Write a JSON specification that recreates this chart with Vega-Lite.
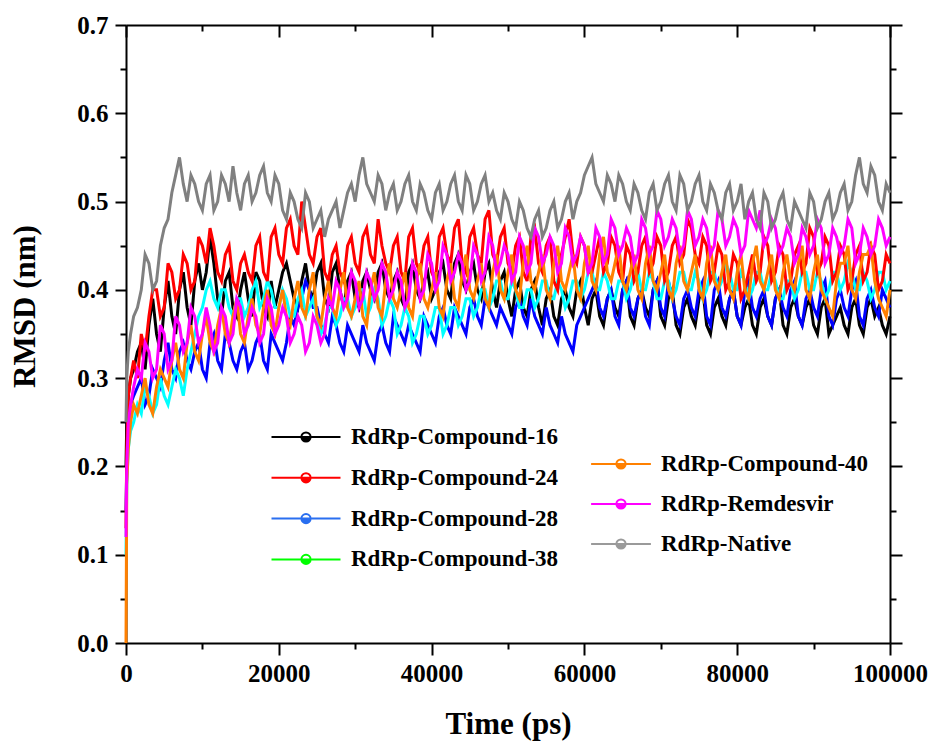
{
"$schema":"https://vega.github.io/schema/vega-lite/v6.json",
"width":764,"height":618,
"autosize":"none",
"padding":{"left":126,"top":25,"right":44,"bottom":101},
"background":"white",
"config":{"view":{"stroke":null},
"axis":{"grid":false,"domainColor":"black","domainWidth":2,"tickColor":"black","tickWidth":2,"labelFont":"Liberation Serif","labelFontWeight":"bold","labelFontSize":25,"labelColor":"black","titleFont":"Liberation Serif","titleFontWeight":"bold","titleFontSize":31,"titleColor":"black"},
"legend":{"orient":"none","title":null,"padding":0,"symbolSize":529,"symbolStrokeWidth":2,"labelFont":"Liberation Serif","labelFontWeight":"bold","labelFontSize":23,"labelColor":"black","labelLimit":400}},
"data":{"values":[
{"t":0,"a":0.20,"b":0.13,"c":0.15,"d":0.10,"e":0.0,"f":0.12,"g":0.25},
{"t":100,"a":0.25,"b":0.22,"c":0.20,"d":0.18,"e":0.18,"f":0.20,"g":0.30},
{"t":300,"a":0.28,"b":0.28,"c":0.25,"d":0.22,"e":0.22,"f":0.25,"g":0.33},
{"t":600,"a":0.30,"b":0.30,"c":0.27,"d":0.24,"e":0.25,"f":0.27,"g":0.35},
{"t":1000,"a":0.31,"b":0.32,"c":0.28,"d":0.25,"e":0.27,"f":0.29,"g":0.37},
{"t":1500,"a":0.33,"b":0.30,"c":0.29,"d":0.27,"e":0.26,"f":0.31,"g":0.38},
{"t":2000,"a":0.34,"b":0.35,"c":0.30,"d":0.26,"e":0.28,"f":0.30,"g":0.40},
{"t":3000,"a":0.36,"b":0.37,"c":0.28,"d":0.28,"e":0.27,"f":0.33,"g":0.43},
{"t":4000,"a":0.35,"b":0.40,"c":0.30,"d":0.27,"e":0.29,"f":0.31,"g":0.41},
{"t":5000,"a":0.38,"b":0.38,"c":0.32,"d":0.28,"e":0.30,"f":0.35,"g":0.47},
{"t":6000,"a":0.37,"b":0.42,"c":0.31,"d":0.29,"e":0.32,"f":0.32,"g":0.51},
{"t":7000,"a":0.40,"b":0.40,"c":0.33,"d":0.30,"e":0.31,"f":0.36,"g":0.55},
{"t":8000,"a":0.38,"b":0.43,"c":0.32,"d":0.31,"e":0.34,"f":0.34,"g":0.50},
{"t":9000,"a":0.41,"b":0.41,"c":0.33,"d":0.35,"e":0.33,"f":0.37,"g":0.52},
{"t":10000,"a":0.40,"b":0.45,"c":0.31,"d":0.38,"e":0.35,"f":0.35,"g":0.49},
{"t":11000,"a":0.46,"b":0.47,"c":0.34,"d":0.41,"e":0.34,"f":0.36,"g":0.53},
{"t":12000,"a":0.39,"b":0.42,"c":0.32,"d":0.38,"e":0.36,"f":0.34,"g":0.50},
{"t":13000,"a":0.41,"b":0.44,"c":0.35,"d":0.40,"e":0.35,"f":0.37,"g":0.52},
{"t":14000,"a":0.38,"b":0.41,"c":0.32,"d":0.37,"e":0.37,"f":0.35,"g":0.54},
{"t":15000,"a":0.40,"b":0.43,"c":0.33,"d":0.39,"e":0.35,"f":0.38,"g":0.49},
{"t":16000,"a":0.39,"b":0.42,"c":0.31,"d":0.38,"e":0.37,"f":0.36,"g":0.53},
{"t":17000,"a":0.42,"b":0.45,"c":0.34,"d":0.41,"e":0.36,"f":0.37,"g":0.51},
{"t":18000,"a":0.38,"b":0.42,"c":0.32,"d":0.39,"e":0.38,"f":0.35,"g":0.54},
{"t":19000,"a":0.41,"b":0.46,"c":0.35,"d":0.40,"e":0.36,"f":0.38,"g":0.50},
{"t":20000,"a":0.40,"b":0.44,"c":0.33,"d":0.38,"e":0.38,"f":0.36,"g":0.52},
{"t":21000,"a":0.43,"b":0.47,"c":0.34,"d":0.39,"e":0.37,"f":0.37,"g":0.48},
{"t":22000,"a":0.39,"b":0.45,"c":0.36,"d":0.37,"e":0.39,"f":0.35,"g":0.50},
{"t":23000,"a":0.41,"b":0.50,"c":0.39,"d":0.40,"e":0.38,"f":0.36,"g":0.47},
{"t":24000,"a":0.40,"b":0.44,"c":0.40,"d":0.38,"e":0.40,"f":0.34,"g":0.50},
{"t":25000,"a":0.42,"b":0.46,"c":0.38,"d":0.37,"e":0.37,"f":0.36,"g":0.48},
{"t":26000,"a":0.39,"b":0.42,"c":0.35,"d":0.36,"e":0.39,"f":0.35,"g":0.46},
{"t":27000,"a":0.42,"b":0.44,"c":0.37,"d":0.38,"e":0.38,"f":0.38,"g":0.49},
{"t":28000,"a":0.40,"b":0.42,"c":0.34,"d":0.37,"e":0.40,"f":0.40,"g":0.47},
{"t":29000,"a":0.41,"b":0.45,"c":0.36,"d":0.39,"e":0.38,"f":0.39,"g":0.51},
{"t":30000,"a":0.39,"b":0.43,"c":0.34,"d":0.38,"e":0.39,"f":0.41,"g":0.50},
{"t":31000,"a":0.41,"b":0.46,"c":0.36,"d":0.40,"e":0.37,"f":0.39,"g":0.55},
{"t":32000,"a":0.40,"b":0.44,"c":0.33,"d":0.38,"e":0.40,"f":0.41,"g":0.51},
{"t":33000,"a":0.42,"b":0.48,"c":0.35,"d":0.39,"e":0.38,"f":0.40,"g":0.53},
{"t":34000,"a":0.40,"b":0.43,"c":0.34,"d":0.37,"e":0.41,"f":0.42,"g":0.49},
{"t":35000,"a":0.41,"b":0.45,"c":0.37,"d":0.38,"e":0.39,"f":0.40,"g":0.52},
{"t":36000,"a":0.39,"b":0.42,"c":0.35,"d":0.36,"e":0.40,"f":0.41,"g":0.50},
{"t":37000,"a":0.42,"b":0.46,"c":0.36,"d":0.37,"e":0.38,"f":0.39,"g":0.53},
{"t":38000,"a":0.40,"b":0.43,"c":0.34,"d":0.35,"e":0.41,"f":0.42,"g":0.49},
{"t":39000,"a":0.41,"b":0.45,"c":0.37,"d":0.37,"e":0.39,"f":0.40,"g":0.51},
{"t":40000,"a":0.39,"b":0.42,"c":0.35,"d":0.36,"e":0.40,"f":0.43,"g":0.48},
{"t":41000,"a":0.42,"b":0.46,"c":0.37,"d":0.38,"e":0.38,"f":0.41,"g":0.52},
{"t":42000,"a":0.40,"b":0.44,"c":0.36,"d":0.36,"e":0.41,"f":0.44,"g":0.50},
{"t":43000,"a":0.43,"b":0.47,"c":0.38,"d":0.38,"e":0.39,"f":0.42,"g":0.53},
{"t":44000,"a":0.41,"b":0.43,"c":0.36,"d":0.37,"e":0.42,"f":0.43,"g":0.49},
{"t":45000,"a":0.42,"b":0.46,"c":0.38,"d":0.39,"e":0.40,"f":0.41,"g":0.52},
{"t":46000,"a":0.40,"b":0.44,"c":0.37,"d":0.38,"e":0.41,"f":0.44,"g":0.50},
{"t":47000,"a":0.42,"b":0.48,"c":0.39,"d":0.40,"e":0.39,"f":0.42,"g":0.53},
{"t":48000,"a":0.40,"b":0.44,"c":0.37,"d":0.39,"e":0.42,"f":0.45,"g":0.51},
{"t":49000,"a":0.41,"b":0.46,"c":0.38,"d":0.41,"e":0.40,"f":0.43,"g":0.48},
{"t":50000,"a":0.39,"b":0.43,"c":0.36,"d":0.39,"e":0.42,"f":0.44,"g":0.50},
{"t":51000,"a":0.40,"b":0.45,"c":0.38,"d":0.40,"e":0.40,"f":0.42,"g":0.47},
{"t":52000,"a":0.38,"b":0.42,"c":0.37,"d":0.38,"e":0.43,"f":0.45,"g":0.49},
{"t":53000,"a":0.40,"b":0.46,"c":0.39,"d":0.40,"e":0.41,"f":0.43,"g":0.46},
{"t":54000,"a":0.38,"b":0.43,"c":0.36,"d":0.39,"e":0.42,"f":0.46,"g":0.49},
{"t":55000,"a":0.39,"b":0.45,"c":0.38,"d":0.41,"e":0.40,"f":0.44,"g":0.47},
{"t":56000,"a":0.37,"b":0.41,"c":0.35,"d":0.39,"e":0.43,"f":0.45,"g":0.50},
{"t":57000,"a":0.39,"b":0.44,"c":0.37,"d":0.40,"e":0.41,"f":0.43,"g":0.48},
{"t":58000,"a":0.38,"b":0.48,"c":0.34,"d":0.39,"e":0.42,"f":0.46,"g":0.51},
{"t":59000,"a":0.40,"b":0.43,"c":0.36,"d":0.41,"e":0.40,"f":0.44,"g":0.50},
{"t":60000,"a":0.38,"b":0.45,"c":0.38,"d":0.40,"e":0.43,"f":0.45,"g":0.53},
{"t":61000,"a":0.39,"b":0.42,"c":0.40,"d":0.42,"e":0.41,"f":0.43,"g":0.55},
{"t":62000,"a":0.37,"b":0.46,"c":0.38,"d":0.40,"e":0.44,"f":0.46,"g":0.51},
{"t":63000,"a":0.39,"b":0.43,"c":0.39,"d":0.41,"e":0.42,"f":0.44,"g":0.53},
{"t":64000,"a":0.38,"b":0.45,"c":0.37,"d":0.39,"e":0.43,"f":0.47,"g":0.50},
{"t":65000,"a":0.40,"b":0.41,"c":0.40,"d":0.41,"e":0.41,"f":0.45,"g":0.52},
{"t":66000,"a":0.37,"b":0.44,"c":0.38,"d":0.40,"e":0.42,"f":0.46,"g":0.49},
{"t":67000,"a":0.39,"b":0.42,"c":0.39,"d":0.42,"e":0.40,"f":0.44,"g":0.51},
{"t":68000,"a":0.38,"b":0.46,"c":0.37,"d":0.40,"e":0.43,"f":0.47,"g":0.48},
{"t":69000,"a":0.40,"b":0.43,"c":0.40,"d":0.41,"e":0.41,"f":0.45,"g":0.52},
{"t":70000,"a":0.37,"b":0.45,"c":0.38,"d":0.39,"e":0.42,"f":0.48,"g":0.50},
{"t":71000,"a":0.39,"b":0.42,"c":0.41,"d":0.41,"e":0.40,"f":0.46,"g":0.53},
{"t":72000,"a":0.36,"b":0.46,"c":0.37,"d":0.40,"e":0.43,"f":0.47,"g":0.49},
{"t":73000,"a":0.38,"b":0.44,"c":0.39,"d":0.42,"e":0.41,"f":0.45,"g":0.52},
{"t":74000,"a":0.37,"b":0.47,"c":0.38,"d":0.40,"e":0.42,"f":0.48,"g":0.50},
{"t":75000,"a":0.39,"b":0.43,"c":0.40,"d":0.41,"e":0.40,"f":0.46,"g":0.53},
{"t":76000,"a":0.36,"b":0.45,"c":0.37,"d":0.40,"e":0.43,"f":0.47,"g":0.49},
{"t":77000,"a":0.38,"b":0.42,"c":0.40,"d":0.42,"e":0.41,"f":0.45,"g":0.51},
{"t":78000,"a":0.37,"b":0.44,"c":0.38,"d":0.41,"e":0.42,"f":0.48,"g":0.48},
{"t":79000,"a":0.39,"b":0.41,"c":0.39,"d":0.42,"e":0.40,"f":0.46,"g":0.52},
{"t":80000,"a":0.37,"b":0.43,"c":0.37,"d":0.40,"e":0.42,"f":0.47,"g":0.50},
{"t":81000,"a":0.38,"b":0.40,"c":0.40,"d":0.41,"e":0.40,"f":0.45,"g":0.48},
{"t":82000,"a":0.36,"b":0.44,"c":0.38,"d":0.40,"e":0.43,"f":0.48,"g":0.51},
{"t":83000,"a":0.38,"b":0.42,"c":0.39,"d":0.42,"e":0.41,"f":0.49,"g":0.47},
{"t":84000,"a":0.37,"b":0.45,"c":0.37,"d":0.40,"e":0.42,"f":0.46,"g":0.50},
{"t":85000,"a":0.39,"b":0.42,"c":0.39,"d":0.41,"e":0.40,"f":0.47,"g":0.48},
{"t":86000,"a":0.36,"b":0.44,"c":0.38,"d":0.39,"e":0.42,"f":0.45,"g":0.51},
{"t":87000,"a":0.38,"b":0.41,"c":0.40,"d":0.41,"e":0.41,"f":0.46,"g":0.47},
{"t":88000,"a":0.37,"b":0.45,"c":0.37,"d":0.40,"e":0.43,"f":0.44,"g":0.49},
{"t":89000,"a":0.38,"b":0.43,"c":0.39,"d":0.42,"e":0.40,"f":0.46,"g":0.47},
{"t":90000,"a":0.36,"b":0.46,"c":0.38,"d":0.40,"e":0.42,"f":0.45,"g":0.50},
{"t":91000,"a":0.38,"b":0.43,"c":0.40,"d":0.41,"e":0.40,"f":0.47,"g":0.48},
{"t":92000,"a":0.35,"b":0.45,"c":0.37,"d":0.40,"e":0.38,"f":0.44,"g":0.51},
{"t":93000,"a":0.37,"b":0.42,"c":0.39,"d":0.42,"e":0.41,"f":0.46,"g":0.49},
{"t":94000,"a":0.36,"b":0.44,"c":0.38,"d":0.41,"e":0.43,"f":0.45,"g":0.52},
{"t":95000,"a":0.38,"b":0.41,"c":0.40,"d":0.42,"e":0.40,"f":0.47,"g":0.50},
{"t":96000,"a":0.36,"b":0.45,"c":0.37,"d":0.40,"e":0.42,"f":0.44,"g":0.55},
{"t":97000,"a":0.38,"b":0.42,"c":0.39,"d":0.41,"e":0.44,"f":0.46,"g":0.51},
{"t":98000,"a":0.37,"b":0.44,"c":0.38,"d":0.40,"e":0.41,"f":0.45,"g":0.53},
{"t":99000,"a":0.36,"b":0.41,"c":0.40,"d":0.42,"e":0.38,"f":0.47,"g":0.49},
{"t":100000,"a":0.37,"b":0.43,"c":0.38,"d":0.41,"e":0.40,"f":0.46,"g":0.51},
{"t":2500,"a":0.31,"b":0.33,"c":0.27,"d":0.29,"e":0.30,"f":0.34,"g":0.44},
{"t":3500,"a":0.39,"b":0.40,"c":0.31,"d":0.26,"e":0.26,"f":0.30,"g":0.40},
{"t":4500,"a":0.33,"b":0.37,"c":0.29,"d":0.30,"e":0.31,"f":0.36,"g":0.45},
{"t":5500,"a":0.41,"b":0.43,"c":0.34,"d":0.27,"e":0.29,"f":0.31,"g":0.48},
{"t":6500,"a":0.35,"b":0.39,"c":0.30,"d":0.31,"e":0.34,"f":0.37,"g":0.53},
{"t":7500,"a":0.42,"b":0.44,"c":0.34,"d":0.28,"e":0.30,"f":0.33,"g":0.52},
{"t":8500,"a":0.36,"b":0.40,"c":0.31,"d":0.33,"e":0.36,"f":0.38,"g":0.53},
{"t":9500,"a":0.43,"b":0.46,"c":0.34,"d":0.37,"e":0.32,"f":0.34,"g":0.50},
{"t":10500,"a":0.42,"b":0.43,"c":0.30,"d":0.40,"e":0.37,"f":0.38,"g":0.52},
{"t":11500,"a":0.43,"b":0.45,"c":0.35,"d":0.39,"e":0.33,"f":0.33,"g":0.49},
{"t":12500,"a":0.37,"b":0.41,"c":0.31,"d":0.40,"e":0.38,"f":0.38,"g":0.53},
{"t":13500,"a":0.42,"b":0.45,"c":0.34,"d":0.38,"e":0.34,"f":0.34,"g":0.50},
{"t":14500,"a":0.37,"b":0.40,"c":0.31,"d":0.39,"e":0.39,"f":0.39,"g":0.51},
{"t":15500,"a":0.42,"b":0.44,"c":0.34,"d":0.37,"e":0.34,"f":0.35,"g":0.52},
{"t":16500,"a":0.37,"b":0.41,"c":0.32,"d":0.40,"e":0.39,"f":0.38,"g":0.50},
{"t":17500,"a":0.41,"b":0.46,"c":0.35,"d":0.38,"e":0.35,"f":0.34,"g":0.53},
{"t":18500,"a":0.37,"b":0.41,"c":0.31,"d":0.41,"e":0.40,"f":0.39,"g":0.51},
{"t":19500,"a":0.38,"b":0.47,"c":0.34,"d":0.38,"e":0.35,"f":0.35,"g":0.53},
{"t":20500,"a":0.42,"b":0.43,"c":0.32,"d":0.40,"e":0.40,"f":0.38,"g":0.49},
{"t":21500,"a":0.41,"b":0.48,"c":0.37,"d":0.37,"e":0.36,"f":0.34,"g":0.51},
{"t":22500,"a":0.38,"b":0.44,"c":0.38,"d":0.39,"e":0.41,"f":0.37,"g":0.48},
{"t":23500,"a":0.43,"b":0.47,"c":0.41,"d":0.37,"e":0.37,"f":0.33,"g":0.51},
{"t":24500,"a":0.39,"b":0.43,"c":0.38,"d":0.39,"e":0.42,"f":0.37,"g":0.47},
{"t":25500,"a":0.43,"b":0.47,"c":0.36,"d":0.35,"e":0.36,"f":0.34,"g":0.49},
{"t":26500,"a":0.38,"b":0.41,"c":0.34,"d":0.38,"e":0.41,"f":0.39,"g":0.48},
{"t":27500,"a":0.43,"b":0.45,"c":0.36,"d":0.36,"e":0.37,"f":0.41,"g":0.50},
{"t":28500,"a":0.38,"b":0.41,"c":0.33,"d":0.39,"e":0.42,"f":0.38,"g":0.49},
{"t":29500,"a":0.42,"b":0.46,"c":0.35,"d":0.37,"e":0.37,"f":0.42,"g":0.52},
{"t":30500,"a":0.38,"b":0.42,"c":0.33,"d":0.40,"e":0.41,"f":0.38,"g":0.53},
{"t":31500,"a":0.42,"b":0.47,"c":0.34,"d":0.37,"e":0.36,"f":0.42,"g":0.52},
{"t":32500,"a":0.39,"b":0.43,"c":0.32,"d":0.40,"e":0.42,"f":0.39,"g":0.50},
{"t":33500,"a":0.43,"b":0.45,"c":0.36,"d":0.36,"e":0.37,"f":0.43,"g":0.52},
{"t":34500,"a":0.39,"b":0.42,"c":0.33,"d":0.39,"e":0.43,"f":0.39,"g":0.51},
{"t":35500,"a":0.42,"b":0.46,"c":0.36,"d":0.35,"e":0.38,"f":0.42,"g":0.49},
{"t":36500,"a":0.38,"b":0.41,"c":0.34,"d":0.38,"e":0.42,"f":0.38,"g":0.52},
{"t":37500,"a":0.43,"b":0.47,"c":0.35,"d":0.34,"e":0.37,"f":0.43,"g":0.50},
{"t":38500,"a":0.39,"b":0.42,"c":0.33,"d":0.37,"e":0.43,"f":0.39,"g":0.52},
{"t":39500,"a":0.42,"b":0.46,"c":0.36,"d":0.35,"e":0.38,"f":0.44,"g":0.49},
{"t":40500,"a":0.40,"b":0.41,"c":0.34,"d":0.38,"e":0.42,"f":0.40,"g":0.51},
{"t":41500,"a":0.43,"b":0.47,"c":0.38,"d":0.35,"e":0.37,"f":0.45,"g":0.49},
{"t":42500,"a":0.39,"b":0.43,"c":0.35,"d":0.38,"e":0.43,"f":0.41,"g":0.52},
{"t":43500,"a":0.44,"b":0.48,"c":0.37,"d":0.36,"e":0.38,"f":0.44,"g":0.50},
{"t":44500,"a":0.40,"b":0.42,"c":0.35,"d":0.39,"e":0.44,"f":0.40,"g":0.53},
{"t":45500,"a":0.43,"b":0.47,"c":0.39,"d":0.37,"e":0.39,"f":0.45,"g":0.49},
{"t":46500,"a":0.39,"b":0.43,"c":0.36,"d":0.40,"e":0.43,"f":0.41,"g":0.52},
{"t":47500,"a":0.43,"b":0.49,"c":0.38,"d":0.38,"e":0.38,"f":0.46,"g":0.50},
{"t":48500,"a":0.38,"b":0.43,"c":0.36,"d":0.41,"e":0.44,"f":0.42,"g":0.49},
{"t":49500,"a":0.42,"b":0.47,"c":0.37,"d":0.39,"e":0.39,"f":0.45,"g":0.51},
{"t":50500,"a":0.37,"b":0.42,"c":0.35,"d":0.41,"e":0.44,"f":0.41,"g":0.48},
{"t":51500,"a":0.41,"b":0.46,"c":0.39,"d":0.38,"e":0.39,"f":0.46,"g":0.50},
{"t":52500,"a":0.37,"b":0.41,"c":0.36,"d":0.40,"e":0.45,"f":0.42,"g":0.47},
{"t":53500,"a":0.41,"b":0.47,"c":0.37,"d":0.38,"e":0.40,"f":0.47,"g":0.48},
{"t":54500,"a":0.36,"b":0.42,"c":0.35,"d":0.41,"e":0.44,"f":0.43,"g":0.46},
{"t":55500,"a":0.40,"b":0.46,"c":0.36,"d":0.39,"e":0.39,"f":0.46,"g":0.49},
{"t":56500,"a":0.36,"b":0.40,"c":0.34,"d":0.41,"e":0.45,"f":0.42,"g":0.47},
{"t":57500,"a":0.40,"b":0.46,"c":0.35,"d":0.38,"e":0.40,"f":0.47,"g":0.50},
{"t":58500,"a":0.37,"b":0.44,"c":0.33,"d":0.41,"e":0.44,"f":0.43,"g":0.48},
{"t":59500,"a":0.41,"b":0.46,"c":0.37,"d":0.39,"e":0.39,"f":0.46,"g":0.51},
{"t":60500,"a":0.36,"b":0.42,"c":0.39,"d":0.42,"e":0.45,"f":0.42,"g":0.54},
{"t":61500,"a":0.40,"b":0.44,"c":0.41,"d":0.40,"e":0.40,"f":0.47,"g":0.52},
{"t":62500,"a":0.36,"b":0.42,"c":0.37,"d":0.42,"e":0.46,"f":0.43,"g":0.50},
{"t":63500,"a":0.40,"b":0.46,"c":0.40,"d":0.39,"e":0.41,"f":0.48,"g":0.52},
{"t":64500,"a":0.37,"b":0.42,"c":0.36,"d":0.41,"e":0.45,"f":0.44,"g":0.53},
{"t":65500,"a":0.41,"b":0.45,"c":0.41,"d":0.39,"e":0.40,"f":0.47,"g":0.50},
{"t":66500,"a":0.36,"b":0.41,"c":0.37,"d":0.42,"e":0.44,"f":0.43,"g":0.52},
{"t":67500,"a":0.40,"b":0.45,"c":0.40,"d":0.40,"e":0.39,"f":0.48,"g":0.49},
{"t":68500,"a":0.37,"b":0.42,"c":0.36,"d":0.42,"e":0.45,"f":0.44,"g":0.51},
{"t":69500,"a":0.41,"b":0.46,"c":0.41,"d":0.39,"e":0.40,"f":0.49,"g":0.49},
{"t":70500,"a":0.36,"b":0.41,"c":0.37,"d":0.41,"e":0.44,"f":0.45,"g":0.52},
{"t":71500,"a":0.40,"b":0.45,"c":0.39,"d":0.39,"e":0.39,"f":0.48,"g":0.50},
{"t":72500,"a":0.35,"b":0.43,"c":0.36,"d":0.42,"e":0.45,"f":0.44,"g":0.53},
{"t":73500,"a":0.39,"b":0.48,"c":0.40,"d":0.40,"e":0.40,"f":0.49,"g":0.49},
{"t":74500,"a":0.36,"b":0.44,"c":0.37,"d":0.42,"e":0.44,"f":0.45,"g":0.52},
{"t":75500,"a":0.40,"b":0.46,"c":0.41,"d":0.39,"e":0.39,"f":0.48,"g":0.50},
{"t":76500,"a":0.35,"b":0.41,"c":0.36,"d":0.42,"e":0.45,"f":0.44,"g":0.52},
{"t":77500,"a":0.39,"b":0.45,"c":0.41,"d":0.40,"e":0.40,"f":0.49,"g":0.49},
{"t":78500,"a":0.36,"b":0.40,"c":0.37,"d":0.43,"e":0.44,"f":0.45,"g":0.51},
{"t":79500,"a":0.40,"b":0.44,"c":0.40,"d":0.40,"e":0.39,"f":0.48,"g":0.49},
{"t":80500,"a":0.36,"b":0.39,"c":0.36,"d":0.42,"e":0.44,"f":0.44,"g":0.52},
{"t":81500,"a":0.39,"b":0.42,"c":0.41,"d":0.39,"e":0.39,"f":0.49,"g":0.50},
{"t":82500,"a":0.35,"b":0.41,"c":0.37,"d":0.42,"e":0.45,"f":0.47,"g":0.48},
{"t":83500,"a":0.39,"b":0.46,"c":0.40,"d":0.40,"e":0.40,"f":0.45,"g":0.51},
{"t":84500,"a":0.36,"b":0.41,"c":0.36,"d":0.42,"e":0.44,"f":0.48,"g":0.47},
{"t":85500,"a":0.40,"b":0.45,"c":0.40,"d":0.39,"e":0.39,"f":0.44,"g":0.50},
{"t":86500,"a":0.35,"b":0.40,"c":0.37,"d":0.41,"e":0.44,"f":0.47,"g":0.48},
{"t":87500,"a":0.39,"b":0.44,"c":0.41,"d":0.39,"e":0.40,"f":0.43,"g":0.50},
{"t":88500,"a":0.36,"b":0.42,"c":0.36,"d":0.42,"e":0.45,"f":0.47,"g":0.48},
{"t":89500,"a":0.39,"b":0.47,"c":0.40,"d":0.40,"e":0.39,"f":0.44,"g":0.51},
{"t":90500,"a":0.35,"b":0.42,"c":0.37,"d":0.42,"e":0.44,"f":0.48,"g":0.47},
{"t":91500,"a":0.39,"b":0.46,"c":0.41,"d":0.39,"e":0.39,"f":0.43,"g":0.50},
{"t":92500,"a":0.36,"b":0.41,"c":0.36,"d":0.42,"e":0.37,"f":0.47,"g":0.48},
{"t":93500,"a":0.38,"b":0.45,"c":0.40,"d":0.40,"e":0.43,"f":0.44,"g":0.51},
{"t":94500,"a":0.35,"b":0.40,"c":0.37,"d":0.43,"e":0.45,"f":0.48,"g":0.49},
{"t":95500,"a":0.39,"b":0.44,"c":0.41,"d":0.40,"e":0.39,"f":0.43,"g":0.53},
{"t":96500,"a":0.35,"b":0.41,"c":0.36,"d":0.42,"e":0.44,"f":0.47,"g":0.52},
{"t":97500,"a":0.39,"b":0.45,"c":0.40,"d":0.39,"e":0.45,"f":0.44,"g":0.54},
{"t":98500,"a":0.38,"b":0.40,"c":0.37,"d":0.42,"e":0.39,"f":0.48,"g":0.50},
{"t":99500,"a":0.35,"b":0.44,"c":0.39,"d":0.40,"e":0.37,"f":0.45,"g":0.52}
]},
"transform":[{"fold":["a","c","d","b","e","f","g"],"as":["s","v"]}],
"layer":[
{"mark":{"type":"line","strokeWidth":3},
 "encoding":{
  "x":{"field":"t","type":"quantitative","scale":{"domain":[0,100000],"nice":false,"zero":false},
   "axis":{"orient":"bottom","values":[0,20000,40000,60000,80000,100000],"format":"d","tickSize":12,"labelPadding":6,"labelFlush":false,"labelOverlap":false,"title":"Time (ps)","titleY":81,"titleBaseline":"middle"}},
  "y":{"field":"v","type":"quantitative","scale":{"domain":[0,0.7],"nice":false},
   "axis":{"orient":"left","values":[0,0.1,0.2,0.3,0.4,0.5,0.6,0.7],"format":".1f","tickSize":11,"labelPadding":7,"labelFlush":false,"labelOverlap":false,"title":"RMSD (nm)","titleX":-101,"titleY":281,"titleBaseline":"middle"}},
  "color":{"field":"s","type":"nominal","scale":{"domain":["a","b","c","d","e","f","g"],"range":["#000000","#ff0000","#0000ff","#00ffff","#ff8000","#ff00ff","#808080"]},"legend":null}
 }},
{"transform":[{"filter":"datum.t < 0"}],
 "mark":{"type":"point","filled":true,"opacity":1},
 "encoding":{
  "x":{"field":"t","type":"quantitative","axis":{"orient":"top","values":[0,20000,40000,60000,80000,100000],"labels":false,"tickSize":-12,"title":null}},
  "y":{"field":"v","type":"quantitative","axis":{"orient":"right","values":[0,0.1,0.2,0.3,0.4,0.5,0.6,0.7],"labels":false,"tickSize":12,"title":null}},
  "stroke":{"field":"s","type":"nominal","scale":{"domain":["a","b","c","d"],"range":["#000000","#ff0000","#2a6ff0","#00ff00"]},
   "legend":{"legendX":167.5,"legendY":399.5,
    "symbolType":"M-3,0L-0.4,0M0.4,0L3,0M-0.4,0A0.4,0.4,0,1,1,0.4,0A0.4,0.4,0,1,1,-0.4,0M-0.4,0L0.4,0A0.4,0.4,0,0,0,-0.4,0Z",
    "labelOffset":32.5,"rowPadding":15.8,
    "labelExpr":"datum.label=='a'?'RdRp-Compound-16':datum.label=='b'?'RdRp-Compound-24':datum.label=='c'?'RdRp-Compound-28':'RdRp-Compound-38'"}},
  "fill":{"field":"s","type":"nominal","scale":{"domain":["a","b","c","d"],"range":["#000000","#ff0000","#2a6ff0","#00ff00"]},
   "legend":{"legendX":167.5,"legendY":399.5,
    "symbolType":"M-3,0L-0.4,0M0.4,0L3,0M-0.4,0A0.4,0.4,0,1,1,0.4,0A0.4,0.4,0,1,1,-0.4,0M-0.4,0L0.4,0A0.4,0.4,0,0,0,-0.4,0Z",
    "labelOffset":32.5,"rowPadding":15.8,
    "labelExpr":"datum.label=='a'?'RdRp-Compound-16':datum.label=='b'?'RdRp-Compound-24':datum.label=='c'?'RdRp-Compound-28':'RdRp-Compound-38'"}}
 }},
{"transform":[{"filter":"datum.t < 0"}],
 "mark":{"type":"point","filled":true,"opacity":1},
 "encoding":{
  "x":{"field":"t","type":"quantitative","axis":{"orient":"bottom","values":[10000,30000,50000,70000,90000],"labels":false,"domain":false,"tickSize":6,"title":null}},
  "y":{"field":"v","type":"quantitative","axis":{"orient":"left","values":[0.05,0.15,0.25,0.35,0.45,0.55,0.65],"labels":false,"domain":false,"tickSize":6,"title":null}},
  "stroke":{"field":"s","type":"nominal","scale":{"domain":["e","f","g"],"range":["#ff8000","#ff00ff","#9a9a9a"]},
   "legend":{"legendX":482.5,"legendY":426.5,
    "symbolType":"M-2.6,0L-0.4,0M0.4,0L2.6,0M-0.4,0A0.4,0.4,0,1,1,0.4,0A0.4,0.4,0,1,1,-0.4,0M-0.4,0L0.4,0A0.4,0.4,0,0,0,-0.4,0Z",
    "labelOffset":27.5,"rowPadding":15,
    "labelExpr":"datum.label=='e'?'RdRp-Compound-40':datum.label=='f'?'RdRp-Remdesvir':'RdRp-Native'"}},
  "fill":{"field":"s","type":"nominal","scale":{"domain":["e","f","g"],"range":["#ff8000","#ff00ff","#9a9a9a"]},
   "legend":{"legendX":482.5,"legendY":426.5,
    "symbolType":"M-2.6,0L-0.4,0M0.4,0L2.6,0M-0.4,0A0.4,0.4,0,1,1,0.4,0A0.4,0.4,0,1,1,-0.4,0M-0.4,0L0.4,0A0.4,0.4,0,0,0,-0.4,0Z",
    "labelOffset":27.5,"rowPadding":15,
    "labelExpr":"datum.label=='e'?'RdRp-Compound-40':datum.label=='f'?'RdRp-Remdesvir':'RdRp-Native'"}}
 }},
{"transform":[{"filter":"datum.t < 0"}],
 "mark":{"type":"point","opacity":0},
 "encoding":{
  "x":{"field":"t","type":"quantitative","axis":{"orient":"top","values":[10000,30000,50000,70000,90000],"labels":false,"domain":false,"tickSize":-6,"title":null}},
  "y":{"field":"v","type":"quantitative","axis":{"orient":"right","values":[0.05,0.15,0.25,0.35,0.45,0.55,0.65],"labels":false,"domain":false,"tickSize":6,"title":null}}
 }}
],
"resolve":{"scale":{"stroke":"independent","fill":"independent"},"axis":{"x":"independent","y":"independent"}}
}
